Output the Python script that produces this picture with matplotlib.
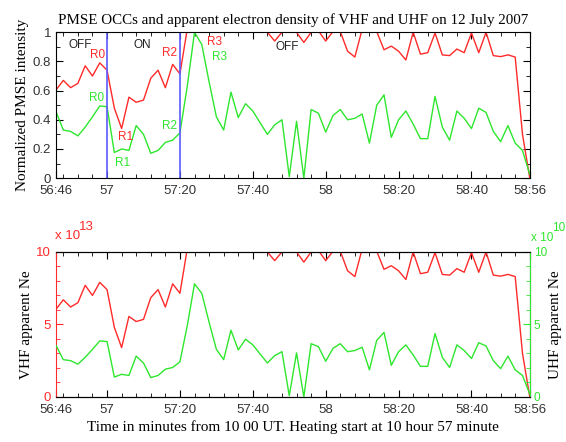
import numpy as np
import matplotlib
matplotlib.use("Agg")
import matplotlib.pyplot as plt
from matplotlib.ticker import MultipleLocator, FixedLocator

# VHF apparent Ne (x 10^13), one sample every 2 s from 56:46 to 58:56
vhf_ne = [6.05, 6.7, 6.2, 6.5, 7.7, 7.0, 7.9, 7.4, 4.8, 3.4,
          5.55, 5.2, 5.35, 6.85, 7.4, 6.2, 7.8, 7.15, 10.2, 11.0,
          11.5, 11.8, 11.5, 11.2, 11.0, 10.8, 10.6, 10.5, 10.3, 10.0,
          9.4, 10.0, 10.1, 10.0, 9.3, 10.0, 10.1, 9.4, 10.05, 10.05,
          8.7, 8.3, 10.2, 10.3, 10.05, 8.8, 9.05, 8.7, 8.1, 10.0,
          8.5, 8.6, 9.95, 8.45, 8.4, 8.85, 8.6, 9.95, 8.6, 10.0,
          8.4, 8.33, 8.45, 8.3, 3.0, 0.0]
# UHF apparent Ne (x 10^10)
uhf_ne = [3.55, 2.57, 2.5, 2.26, 2.73, 3.28, 3.86, 3.82, 1.37, 1.56,
          1.48, 2.81, 2.34, 1.33, 1.48, 1.91, 2.03, 2.42, 4.9, 7.8,
          7.14, 5.15, 3.28, 2.57, 4.6, 3.24, 3.98, 3.59, 2.96, 2.34,
          2.85, 3.12, 0.08, 3.04, 0.0, 3.67, 3.47, 2.46, 3.35, 3.67,
          3.12, 3.2, 3.43, 1.87, 3.9, 4.45, 2.18, 3.12, 3.59, 2.89,
          2.11, 2.11, 4.37, 2.73, 2.03, 3.59, 3.2, 2.65, 3.74, 3.51,
          2.5, 1.95, 2.81, 1.87, 1.48, 0.2]

tick_pos = [46, 60, 80, 100, 120, 140, 160, 176]
tick_labels = ['56:46', '57', '57:20', '57:40', '58', '58:20', '58:40', '58:56']
heating_marks = [60, 80]

t = np.arange(46, 178, 2)  # seconds after 10:56
vhf = np.array(vhf_ne)
uhf = np.array(uhf_ne)
vhf_norm = vhf / 10.0
uhf_norm = uhf / uhf.max()

RED = '#ff2a2a'
GREEN = '#2ee62e'
BLUE = '#5a5aff'
SERIF = ['Liberation Serif', 'DejaVu Serif']
SANS = ['Liberation Sans', 'DejaVu Sans']
plt.rcParams['font.family'] = SANS

fig = plt.figure(figsize=(5.66, 4.42), dpi=100)
ax1 = fig.add_axes([0.099, 0.597, 0.837, 0.330])
ax2 = fig.add_axes([0.099, 0.102, 0.837, 0.328])


def style_x(ax):
    ax.set_xlim(46, 176)
    ax.xaxis.set_major_locator(FixedLocator(tick_pos))
    ax.set_xticklabels(tick_labels)
    ax.xaxis.set_minor_locator(FixedLocator([v for v in range(48, 176, 4) if v not in tick_pos]))
    ax.tick_params(axis='x', which='both', direction='in', top=True, labelsize=9.5,
                   labelcolor='#333333', pad=5)
    ax.tick_params(axis='x', which='major', length=5)
    ax.tick_params(axis='x', which='minor', length=3)


# upper panel: normalized intensity
ax1.plot(t, vhf_norm, color=RED, lw=1.0)
ax1.plot(t, uhf_norm, color=GREEN, lw=1.0)
for xm in heating_marks:
    ax1.axvline(xm, color=BLUE, lw=1.2)
style_x(ax1)
ax1.set_ylim(0, 1)
ax1.yaxis.set_minor_locator(MultipleLocator(0.1))
ax1.set_yticks([0, 0.2, 0.4, 0.6, 0.8, 1.0])
ax1.set_yticklabels(['0', '0.2', '0.4', '0.6', '0.8', '1'])
ax1.tick_params(axis='y', which='both', direction='in', right=True, labelsize=9.5,
                labelcolor='#333333')
ax1.tick_params(axis='y', which='major', length=5)
ax1.tick_params(axis='y', which='minor', length=3)
ax1.set_ylabel('Normalized PMSE intensity', family=SERIF, fontsize=11, labelpad=3)
ax1.set_title('PMSE OCCs and apparent electron density of VHF and UHF on 12 July 2007',
              family=SERIF, fontsize=10.8, pad=6)

lab = dict(fontsize=8.5, ha='center', va='center')
ax1.text(52.6, 0.91, 'OFF', color='#222222', **lab)
ax1.text(69.7, 0.91, 'ON', color='#222222', **lab)
ax1.text(109.4, 0.90, 'OFF', color='#222222', **lab)
ax1.text(57.3, 0.845, 'R0', color=RED, **lab)
ax1.text(57.1, 0.548, 'R0', color=GREEN, **lab)
ax1.text(65.2, 0.285, 'R1', color=RED, **lab)
ax1.text(64.3, 0.107, 'R1', color=GREEN, **lab)
ax1.text(77.2, 0.855, 'R2', color=RED, **lab)
ax1.text(77.0, 0.358, 'R2', color=GREEN, **lab)
ax1.text(89.6, 0.93, 'R3', color=RED, **lab)
ax1.text(90.9, 0.83, 'R3', color=GREEN, **lab)

# lower panel: apparent electron density
ax2.plot(t, vhf, color=RED, lw=1.0)
style_x(ax2)
ax2.set_ylim(0, 10)
ax2.yaxis.set_major_locator(MultipleLocator(5))
ax2.yaxis.set_minor_locator(MultipleLocator(1))
ax2.tick_params(axis='y', which='both', direction='in', colors=RED, labelsize=9.5, pad=4)
ax2.tick_params(axis='y', which='major', length=5)
ax2.tick_params(axis='y', which='minor', length=3)
ax2.spines['left'].set_color(RED)
ax2.set_ylabel('VHF apparent Ne', family=SERIF, fontsize=11, labelpad=2)
ax2.set_xlabel('Time in minutes from 10 00 UT. Heating start at 10 hour 57 minute',
               family=SERIF, fontsize=11, labelpad=3)

ax3 = ax2.twinx()
ax3.plot(t, uhf, color=GREEN, lw=1.0)
ax3.set_xlim(46, 176)
ax3.set_ylim(0, 10)
ax3.yaxis.set_major_locator(MultipleLocator(5))
ax3.yaxis.set_minor_locator(MultipleLocator(1))
ax3.tick_params(axis='y', which='both', direction='in', colors=GREEN, labelsize=8.5, pad=3)
ax3.tick_params(axis='y', which='major', length=5)
ax3.tick_params(axis='y', which='minor', length=3)
ax3.spines['right'].set_color(GREEN)
ax3.spines['left'].set_visible(False)
ax3.set_ylabel('UHF apparent Ne', family=SERIF, fontsize=11, labelpad=1)

fig.text(0.097, 0.465, 'x 10', color=RED, fontsize=9.5, ha='left', va='center')
fig.text(0.139, 0.487, '13', color=RED, fontsize=9.5, ha='left', va='center')
fig.text(0.939, 0.461, 'x 10', color=GREEN, fontsize=8.5, ha='left', va='center')
fig.text(0.975, 0.484, '10', color=GREEN, fontsize=8.5, ha='left', va='center')

fig.savefig('out.png', dpi=100)
